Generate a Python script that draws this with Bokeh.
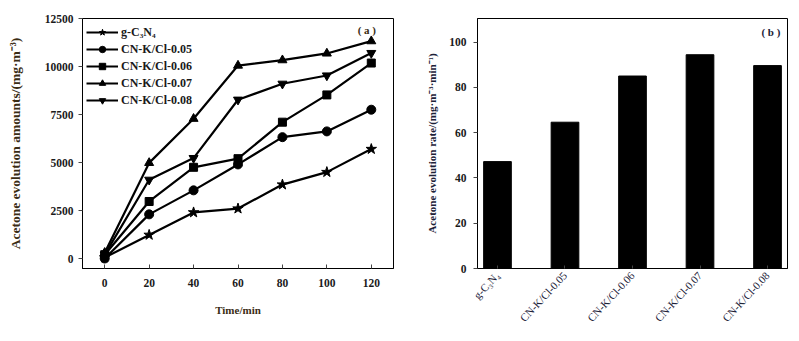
import math
from bokeh.plotting import figure
from bokeh.layouts import row
from bokeh.models import FixedTicker, Range1d, Legend, LegendItem, Label
from bokeh.embed import file_html
from bokeh.resources import INLINE

# ---- data (a) ----
time_min = [0, 20, 40, 60, 80, 100, 120]
series_names = ["g-C\u2083N\u2084", "CN-K/Cl-0.05", "CN-K/Cl-0.06", "CN-K/Cl-0.07", "CN-K/Cl-0.08"]
g_c3n4 = [50, 1230, 2400, 2600, 3850, 4500, 5700]
cn_005 = [0, 2300, 3550, 4900, 6320, 6620, 7750]
cn_006 = [200, 2970, 4750, 5200, 7100, 8520, 10180]
cn_007 = [300, 4980, 7280, 10050, 10330, 10680, 11320]
cn_008 = [200, 4100, 5230, 8270, 9100, 9530, 10700]
y_ticks_a = [0, 2500, 5000, 7500, 10000, 12500]
x_ticks_a = [0, 20, 40, 60, 80, 100, 120]

# ---- data (b) ----
samples = ["g-C\u2083N\u2084", "CN-K/Cl-0.05", "CN-K/Cl-0.06", "CN-K/Cl-0.07", "CN-K/Cl-0.08"]
rates = [47.2, 64.6, 85.0, 94.4, 89.6]
y_ticks_b = [0, 20, 40, 60, 80, 100]

FONT = "Liberation Serif"
TXT = "#1a1a1a"
LBL_A = "#3a2c14"
LBL_B = "#1c2238"

def style(p, lblcolor):
    p.outline_line_color = "black"
    p.outline_line_width = 1
    p.xgrid.visible = False
    p.ygrid.visible = False
    p.background_fill_color = "white"
    p.border_fill_color = "white"
    for ax in (p.xaxis[0], p.yaxis[0]):
        ax.major_label_text_font = FONT
        ax.major_label_text_font_style = "bold"
        ax.major_label_text_font_size = "11.5px"
        ax.major_label_text_color = TXT
        ax.axis_label_text_font = FONT
        ax.axis_label_text_font_style = "bold"
        ax.axis_label_text_font_size = "11px"
        ax.axis_label_text_color = lblcolor
        ax.minor_tick_line_color = None
        ax.axis_line_color = "black"
        ax.major_tick_line_color = "#444444"

# ---------- (a) ----------
pa = figure(width=400, height=341, output_backend="svg", toolbar_location=None,
            x_range=Range1d(-10, 130), y_range=Range1d(-520, 12500),
            min_border_left=82, min_border_right=7, min_border_top=18, min_border_bottom=73)
style(pa, LBL_A)
pa.xaxis[0].ticker = FixedTicker(ticks=x_ticks_a)
pa.yaxis[0].ticker = FixedTicker(ticks=y_ticks_a)
pa.xaxis[0].major_tick_in = 4
pa.xaxis[0].major_tick_out = 0
pa.xaxis[0].major_label_standoff = 10
pa.yaxis[0].major_tick_in = 0
pa.yaxis[0].major_tick_out = 4
pa.xaxis[0].axis_label = "Time/min"
pa.yaxis[0].axis_label = "Acetone evolution amounts/(mg\u00b7m\u207b\u00b3)"
pa.yaxis[0].axis_label_text_font_size = "13.5px"
pa.xaxis[0].axis_label_standoff = 14
pa.yaxis[0].axis_label_standoff = 19

all_series = [g_c3n4, cn_005, cn_006, cn_007, cn_008]
markers = ["star", "circle", "square", "triangle", "inverted_triangle"]
sizes = [11, 9, 8, 9, 9]
items = []
for name, ys, mk, sz in zip(series_names, all_series, markers, sizes):
    ln = pa.line(time_min, ys, line_color="black", line_width=2.2)
    sc = pa.scatter(time_min, ys, marker=mk, size=sz, fill_color="black", line_color="black")
    items.append(LegendItem(label=name, renderers=[ln, sc]))

leg = Legend(items=items, location=(4, 160), border_line_color=None,
             background_fill_alpha=0, label_text_font=FONT, label_text_font_style="bold",
             label_text_font_size="12px", label_text_color=TXT, glyph_width=32, glyph_height=16,
             spacing=1, padding=2, margin=0, label_standoff=3, label_height=16)
pa.add_layout(leg)
pa.add_layout(Label(x=118, y=11900, text="( a )", text_font=FONT, text_font_style="bold",
                    text_font_size="11px", text_color=LBL_A, text_align="center", text_baseline="middle"))

# ---------- (b) ----------
positions = list(range(1, len(samples) + 1))
pb = figure(width=399, height=341, output_backend="svg", toolbar_location=None,
            x_range=Range1d(0.704, 5.296), y_range=Range1d(0, 110.4),
            min_border_left=77, min_border_right=12, min_border_top=18, min_border_bottom=70)
style(pb, LBL_B)
pb.vbar(x=positions, top=rates, width=0.41, fill_color="black", line_color="black")
pb.xaxis[0].ticker = FixedTicker(ticks=positions)
pb.xaxis[0].major_label_overrides = {p: s for p, s in zip(positions, samples)}
pb.xaxis[0].major_label_orientation = 0.82
pb.xaxis[0].major_tick_in = 3
pb.xaxis[0].major_tick_out = 0
pb.yaxis[0].ticker = FixedTicker(ticks=y_ticks_b)
pb.yaxis[0].major_tick_in = 0
pb.yaxis[0].major_tick_out = 4
pb.yaxis[0].major_label_standoff = 7
pb.yaxis[0].axis_label = "Acetone evolution rate/(mg\u00b7m\u207b\u00b3\u00b7min\u207b\u00b9)"
pb.yaxis[0].axis_label_standoff = 8
pb.xaxis[0].major_label_text_font_style = "normal"
pb.xaxis[0].major_label_text_font_size = "11px"
pb.xaxis[0].major_label_text_color = LBL_B
pb.add_layout(Label(x=5.05, y=104.5, text="( b )", text_font=FONT, text_font_style="bold",
                    text_font_size="11px", text_color=LBL_B, text_align="center", text_baseline="middle"))

layout = row(pa, pb)
open("out.html", "w").write(file_html(layout, INLINE))
